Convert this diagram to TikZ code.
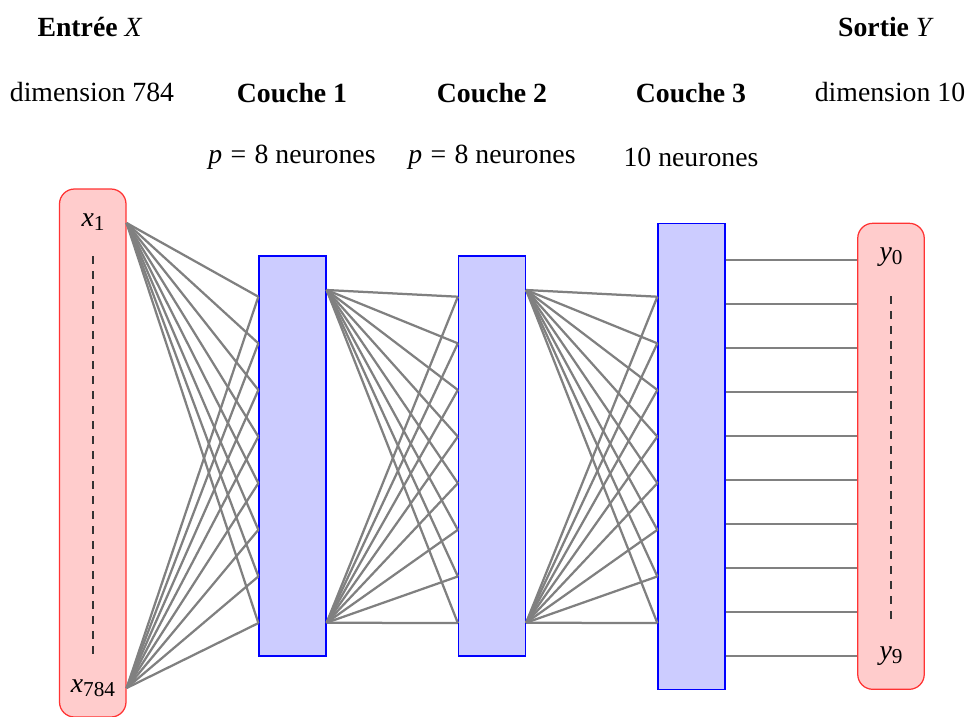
\documentclass[tikz,border=0pt]{standalone}
\usepackage{fontspec}
\setmainfont{Liberation Serif}
\newcommand{\vi}[1]{\textit{#1}}
\newcommand{\eqsp}{\hspace{0.3em}=\hspace{0.3em}}
\newcommand{\subx}[1]{\raisebox{-0.35ex}{\fontsize{8.5pt}{10pt}\selectfont #1}}
\begin{document}
\begin{tikzpicture}[x=0.4pt,y=-0.4pt,
  every node/.style={font=\fontsize{11.1pt}{13pt}\selectfont},
  inputbox/.style={draw=red!80, fill=red!20, rounded corners=6pt, minimum width=26.6pt, inner sep=0pt, line width=0.5pt},
  layerbox/.style={draw=blue, fill=blue!20, minimum width=26.8pt, inner sep=0pt, line width=0.5pt},
  wire/.style={draw=gray, line width=0.9pt},
  dots/.style={draw=black!80, dashed, line width=0.5pt}]
\useasboundingbox (0,0) rectangle (968,716);
% boxes
\node[inputbox, minimum height=211.2pt] (in) at (92.75,453) {};
\node[inputbox, minimum height=186.4pt] (out) at (891,456.3) {};
\node[layerbox, minimum height=160pt] (l1) at (292.5,456) {};
\node[layerbox, minimum height=160pt] (l2) at (492,456) {};
\node[layerbox, minimum height=186.4pt] (l3) at (691.5,456.3) {};
% labels in boxes
\node (x1) at (93,222) {\vi{x}\subx{1}};
\node (xn) at (93,688) {\vi{x}\subx{784}};
\node (y0) at (891,257) {\vi{y}\subx{0}};
\node (y9) at (891,656) {\vi{y}\subx{9}};
\coordinate (dx1) at (93,256);
\coordinate (dx2) at (93,655);
\coordinate (dy1) at (891,296);
\coordinate (dy2) at (891,622);
\draw[dots] (dx1) -- (dx2);
\draw[dots] (dy1) -- (dy2);
% fan points
\coordinate (inT) at (in.east |- 0,223);
\coordinate (inB) at (in.east |- 0,688);
\coordinate (aT) at (l1.east |- 0,290);
\coordinate (aB) at (l1.east |- 0,622.7);
\coordinate (bT) at (l2.east |- 0,290);
\coordinate (bB) at (l2.east |- 0,622.7);
\foreach \i in {1,...,8} {
  \coordinate (p1\i) at ([yshift={-(\i-1)*18.65pt}]l1.west |- 0,296.7);
  \coordinate (p2\i) at ([yshift={-(\i-1)*18.65pt}]l2.west |- 0,296.7);
  \coordinate (p3\i) at ([yshift={-(\i-1)*18.65pt}]l3.west |- 0,296.7);
}
\foreach \i in {1,...,8} {
  \draw[wire] (inT) -- (p1\i);
  \draw[wire] (inB) -- (p1\i);
  \draw[wire] (aT) -- (p2\i);
  \draw[wire] (aB) -- (p2\i);
  \draw[wire] (bT) -- (p3\i);
  \draw[wire] (bB) -- (p3\i);
}
\foreach \i in {1,...,10} {
  \coordinate (q\i) at ([yshift={-(\i-1)*17.6pt}]l3.east |- 0,260);
  \coordinate (r\i) at ([yshift={-(\i-1)*17.6pt}]out.west |- 0,260);
  \draw[wire] (q\i) -- (r\i);
}
% top labels
\node (tin) at (90,27) {\textbf{Entrée} \vi{X}};
\node (tout) at (886,27) {\textbf{Sortie} \vi{Y}};
\node (din) at (92,92) {dimension 784};
\node (dout) at (890,92) {dimension 10};
\node (c1) at (292,93) {\textbf{Couche 1}};
\node (c2) at (492,93) {\textbf{Couche 2}};
\node (c3) at (691,93) {\textbf{Couche 3}};
\node (n1) at (292,157) {\vi{p}\eqsp8 neurones};
\node (n2) at (492,157) {\vi{p}\eqsp8 neurones};
\node (n3) at (691,157) {10 neurones};
\end{tikzpicture}
\end{document}
